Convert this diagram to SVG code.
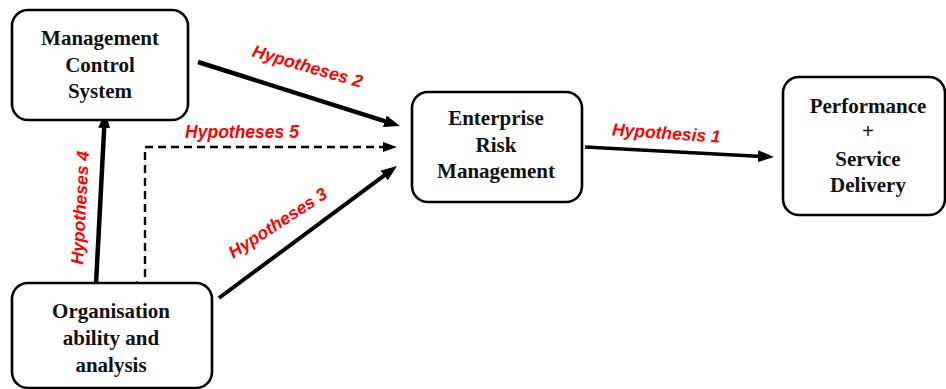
<svg xmlns="http://www.w3.org/2000/svg" width="946" height="389" viewBox="0 0 946 389">
<style>
.box{fill:#fff;stroke:#000;stroke-width:2.6}
.nt{font-family:"Liberation Serif","Times New Roman",serif;font-weight:bold;font-size:21px;fill:#111;text-anchor:middle}
.hl{font-family:"Liberation Sans",Arial,sans-serif;font-weight:bold;font-style:italic;font-size:17.5px;fill:#ff0000;text-anchor:middle}
.ar{stroke:#000;fill:none;stroke-linecap:butt}
</style>
<defs>
<marker id="ah" viewBox="0 0 16 12" refX="4" refY="6" markerWidth="16" markerHeight="12" markerUnits="userSpaceOnUse" orient="auto">
<path d="M0,0 L16,6 L0,12 Z" fill="#000"/>
</marker>
<marker id="ahs" viewBox="0 0 14 10" refX="3" refY="5" markerWidth="14" markerHeight="10" markerUnits="userSpaceOnUse" orient="auto">
<path d="M0,0 L14,5 L0,10 Z" fill="#000"/>
</marker>
</defs>
<rect width="946" height="389" fill="#fff"/>
<g id="connectors">
<line class="ar" x1="198" y1="62" x2="388.6" y2="122.4" stroke-width="4.5" marker-end="url(#ah)"/>
<line class="ar" x1="219" y1="298" x2="387.4" y2="173.1" stroke-width="4" marker-end="url(#ah)"/>
<line class="ar" x1="96" y1="284" x2="104.4" y2="124" stroke-width="4.5" marker-end="url(#ah)"/>
<polyline class="ar" points="145,277 145,147 386,147" stroke-width="2.4" stroke-dasharray="8,5" marker-end="url(#ahs)"/>
<line class="ar" x1="137" y1="281" x2="137" y2="307" stroke-width="1.3"/>
<line class="ar" x1="585" y1="147" x2="762" y2="156.4" stroke-width="3.5" marker-end="url(#ah)"/>
<text class="hl" transform="translate(306,72) rotate(16)">Hypotheses 2</text>
<text class="hl" transform="translate(281,228) rotate(-33)">Hypotheses 3</text>
<text class="hl" transform="translate(86,208) rotate(-87)">Hypotheses 4</text>
<text class="hl" x="242" y="138">Hypotheses 5</text>
<text class="hl" transform="translate(666,139) rotate(4)">Hypothesis 1</text>
</g>
<g id="mcs">
<rect class="box" x="12" y="10" width="176" height="110" rx="16"/>
<text class="nt" x="100" y="45">Management</text>
<text class="nt" x="100" y="72">Control</text>
<text class="nt" x="100" y="98">System</text>
</g>
<g id="org">
<rect class="box" x="12" y="283" width="200" height="105" rx="16"/>
<text class="nt" x="111" y="318">Organisation</text>
<text class="nt" x="111" y="345">ability and</text>
<text class="nt" x="111" y="372">analysis</text>
</g>
<g id="erm">
<rect class="box" x="412" y="92" width="170" height="110" rx="16"/>
<text class="nt" x="496" y="125">Enterprise</text>
<text class="nt" x="496" y="152">Risk</text>
<text class="nt" x="496" y="178">Management</text>
</g>
<g id="perf">
<rect class="box" x="783" y="77" width="162" height="138" rx="16"/>
<text class="nt" x="868" y="113">Performance</text>
<text class="nt" x="868" y="138">+</text>
<text class="nt" x="868" y="166">Service</text>
<text class="nt" x="868" y="192">Delivery</text>
</g>
</svg>
